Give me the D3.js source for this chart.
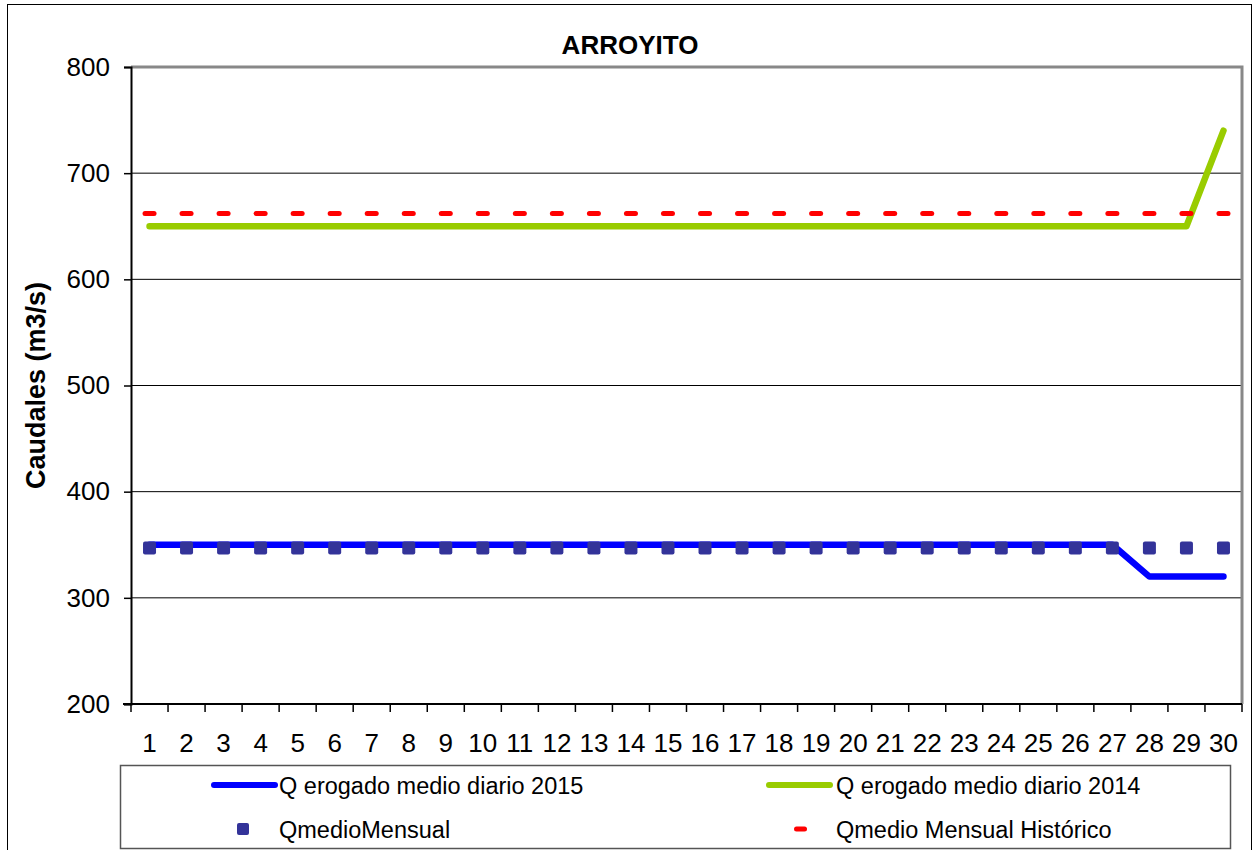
<!DOCTYPE html>
<html>
    <head>
        <meta charset="utf-8">
        <title>ARROYITO</title>
        <script src="https://d3js.org/d3.v7.min.js"></script>
        <style>
            body { margin: 0; background: #fff; }
            text { font-family: "Liberation Sans", Arial, sans-serif; fill: #000; }
        </style>
    </head>
    <body>
        <script>

        // Data
        const days = d3.range(1, 31);
        const q2015 = [350, 350, 350, 350, 350, 350, 350, 350, 350, 350,
                       350, 350, 350, 350, 350, 350, 350, 350, 350, 350,
                       350, 350, 350, 350, 350, 350, 350, 320, 320, 320];
        const q2014 = [650, 650, 650, 650, 650, 650, 650, 650, 650, 650,
                       650, 650, 650, 650, 650, 650, 650, 650, 650, 650,
                       650, 650, 650, 650, 650, 650, 650, 650, 650, 740];
        const qMedioMensual = days.map(() => 347);
        const qHistorico = days.map(() => 662);
        const yTicks = [200, 300, 400, 500, 600, 700, 800];

        const legendItems = [
            { name: "Q erogado medio diario 2015", kind: "line", color: "#0000ff" },
            { name: "Q erogado medio diario 2014", kind: "line", color: "#99cc00" },
            { name: "QmedioMensual", kind: "square", color: "#333399" },
            { name: "Qmedio Mensual Histórico", kind: "dash", color: "#ff0000" }
        ];

        // Set up SVG and dimensions
        const svgWidth = 1257;
        const svgHeight = 850;
        const margin = { top: 67, right: 15, bottom: 146, left: 131 };
        const plotRight = svgWidth - margin.right;
        const plotBottom = svgHeight - margin.bottom;

        const svg = d3.select("body").append("svg")
            .attr("width", svgWidth)
            .attr("height", svgHeight);

        svg.append("rect")
            .attr("width", svgWidth).attr("height", svgHeight)
            .attr("fill", "#fff");

        // outer chart border
        svg.append("rect")
            .attr("x", 7.5).attr("y", 4.5)
            .attr("width", 1244).attr("height", 860)
            .attr("fill", "none").attr("stroke", "#000").attr("stroke-width", 1);

        // Scales
        const xScale = d3.scaleBand()
            .domain(days)
            .range([margin.left, plotRight]);
        const xc = d => xScale(d) + xScale.bandwidth() / 2;

        const yScale = d3.scaleLinear()
            .domain([200, 800])
            .range([plotBottom, margin.top]);

        // gridlines
        svg.append("g")
            .selectAll("line")
            .data(yTicks.filter(t => t > 200 && t < 800))
            .join("line")
            .attr("x1", margin.left).attr("x2", plotRight)
            .attr("y1", d => yScale(d)).attr("y2", d => yScale(d))
            .attr("stroke", "#000").attr("stroke-width", 1);

        // top and right plot border (gray)
        svg.append("path")
            .attr("d", `M${margin.left},${margin.top}H${plotRight}V${plotBottom}`)
            .attr("fill", "none").attr("stroke", "#888").attr("stroke-width", 3);

        // Y axis
        const yAxis = svg.append("g")
            .attr("transform", `translate(${margin.left},0)`)
            .call(d3.axisLeft(yScale).tickValues(yTicks).tickSize(7).tickPadding(14));
        yAxis.select(".domain").attr("stroke", "#000").attr("stroke-width", 2);
        yAxis.selectAll(".tick line").attr("stroke", "#000").attr("stroke-width", 1.5);
        yAxis.selectAll(".tick text")
            .attr("font-size", 26).attr("font-family", "Liberation Sans, Arial, sans-serif");

        // X axis: ticks on category boundaries
        const xAxisG = svg.append("g");
        xAxisG.append("line")
            .attr("x1", margin.left - 8).attr("x2", plotRight)
            .attr("y1", plotBottom).attr("y2", plotBottom)
            .attr("stroke", "#000").attr("stroke-width", 2);
        xAxisG.selectAll("line.tk")
            .data(days.concat([31]))
            .join("line")
            .attr("class", "tk")
            .attr("x1", d => d === 31 ? plotRight : xScale(d))
            .attr("x2", d => d === 31 ? plotRight : xScale(d))
            .attr("y1", plotBottom).attr("y2", plotBottom + 8)
            .attr("stroke", "#000").attr("stroke-width", 1.5);
        xAxisG.selectAll("text")
            .data(days)
            .join("text")
            .attr("x", d => xc(d))
            .attr("y", plotBottom + 48)
            .attr("text-anchor", "middle")
            .attr("font-size", 26)
            .text(d => d);

        // Title and axis title
        svg.append("text")
            .attr("x", 630).attr("y", 54)
            .attr("text-anchor", "middle")
            .attr("font-size", 26).attr("font-weight", "bold")
            .text("ARROYITO");

        svg.append("text")
            .attr("transform", `translate(45,${(margin.top + plotBottom) / 2}) rotate(-90)`)
            .attr("text-anchor", "middle")
            .attr("font-size", 27).attr("font-weight", "bold")
            .text("Caudales (m3/s)");

        // Lines
        const line = d3.line()
            .x((d, i) => xc(days[i]))
            .y(d => yScale(d));

        svg.append("path")
            .datum(q2015)
            .attr("d", line)
            .attr("fill", "none").attr("stroke", "#0000ff")
            .attr("stroke-width", 6.5).attr("stroke-linejoin", "round").attr("stroke-linecap", "round");

        svg.append("path")
            .datum(q2014)
            .attr("d", line)
            .attr("fill", "none").attr("stroke", "#99cc00")
            .attr("stroke-width", 6.5).attr("stroke-linejoin", "round").attr("stroke-linecap", "round");

        // QmedioMensual squares
        svg.append("g")
            .selectAll("rect")
            .data(qMedioMensual)
            .join("rect")
            .attr("x", (d, i) => xc(days[i]) - 6.5)
            .attr("y", d => yScale(d) - 6.5)
            .attr("width", 13).attr("height", 13)
            .attr("rx", 2)
            .attr("fill", "#333399");

        // Historic monthly mean dash markers
        svg.append("g")
            .selectAll("rect")
            .data(qHistorico)
            .join("rect")
            .attr("x", (d, i) => xc(days[i]) - 7)
            .attr("y", d => yScale(d) - 2.5)
            .attr("width", 14).attr("height", 5)
            .attr("rx", 2.5)
            .attr("fill", "#ff0000");

        // Legend
        svg.append("rect")
            .attr("x", 120.5).attr("y", 765.5)
            .attr("width", 1110).attr("height", 83)
            .attr("fill", "#fff").attr("stroke", "#555").attr("stroke-width", 1.5);

        const legendPos = [
            { x: 212, y: 785 }, { x: 767, y: 785 },
            { x: 212, y: 829 }, { x: 767, y: 829 }
        ];

        const leg = svg.append("g")
            .selectAll("g")
            .data(legendItems)
            .join("g")
            .attr("transform", (d, i) => `translate(${legendPos[i].x},${legendPos[i].y})`);

        leg.filter(d => d.kind === "line").append("line")
            .attr("x1", 2).attr("x2", 63)
            .attr("stroke", d => d.color).attr("stroke-width", 6).attr("stroke-linecap", "round");
        leg.filter(d => d.kind === "square").append("rect")
            .attr("x", 25).attr("y", -6).attr("width", 12).attr("height", 12).attr("rx", 2)
            .attr("fill", d => d.color);
        leg.filter(d => d.kind === "dash").append("rect")
            .attr("x", 27).attr("y", -2.5).attr("width", 13).attr("height", 5).attr("rx", 2.5)
            .attr("fill", d => d.color);

        leg.append("text")
            .attr("x", (d, i) => i % 2 === 0 ? 67 : 69)
            .attr("y", 9)
            .attr("font-size", 23.5)
            .text(d => d.name);

        </script>
    </body>
</html>
